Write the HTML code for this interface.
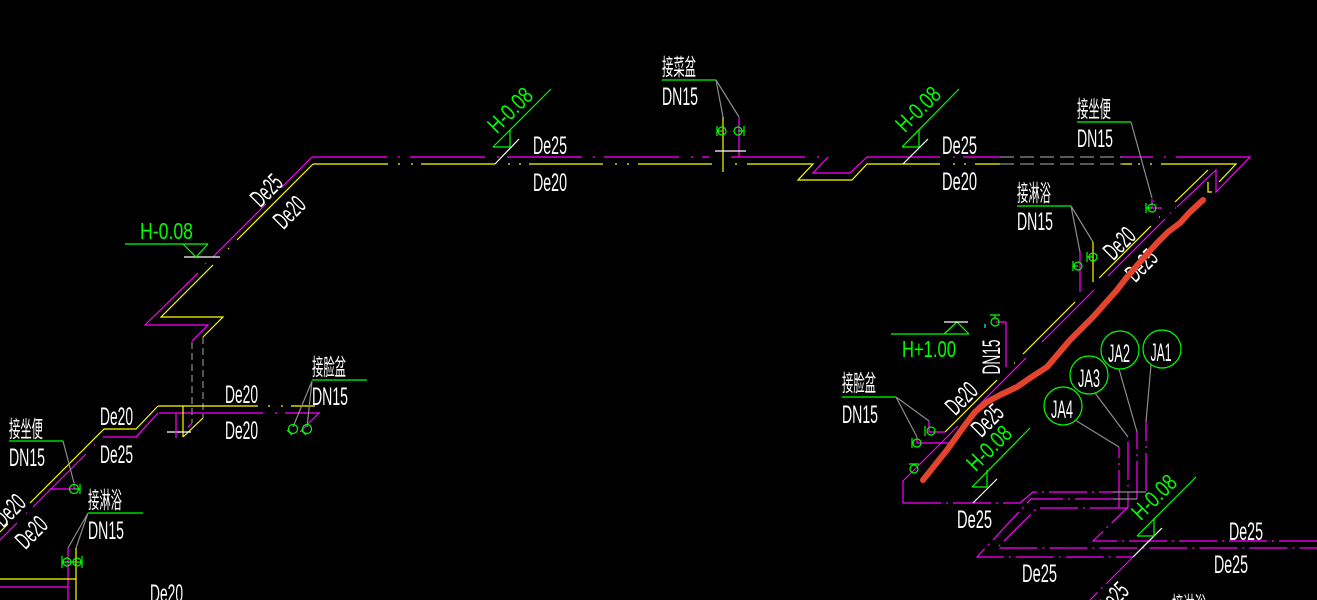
<!DOCTYPE html>
<html><head><meta charset="utf-8">
<style>
html,body{margin:0;padding:0;background:#000;width:1317px;height:600px;overflow:hidden}
svg{display:block}
.m{stroke:#ff00ff;fill:none;stroke-width:1.2}
.y{stroke:#ffff00;fill:none;stroke-width:1.2}
.g{stroke:#00ff00;fill:none;stroke-width:1.2}
.w{stroke:#ffffff;fill:none;stroke-width:1.2}
.gr{stroke:#8c8c8c;fill:none;stroke-width:1.2}
.cy{stroke:#00ffff;fill:none;stroke-width:1.2}
.dd{stroke-dasharray:38 5 2 5}
.t{fill:#fff;font-family:"Liberation Sans",sans-serif;font-size:25px}
.tg{fill:#00ff00;font-family:"Liberation Sans",sans-serif;font-size:23px}
.c{fill:#fff;font-family:"Liberation Sans","Noto Sans CJK SC",sans-serif;font-size:23px}
</style></head><body>
<svg width="1317" height="600" viewBox="0 0 1317 600" xmlns="http://www.w3.org/2000/svg">
<rect width="1317" height="600" fill="#000"/>

<!-- ===== Top-left riser ===== -->
<path class="m" d="M312,157 L282,187 M266,204 L213,257 M205,264 L206,263 M198,273 L145,325 L208,325 L192,341"/>
<path class="y" d="M313,164 L237,240 M228,249 L229,248 M213,265 L161,317 L223,317 L203,337"/>
<path class="gr" stroke-dasharray="7 4" d="M192,342 V423 M203,337 V418"/>
<path class="w" d="M184,257 H220"/>
<path class="g" d="M125,244 H208 M183,244 L196,257 L208,244"/>
<text class="tg" x="140" y="239" textLength="53" lengthAdjust="spacingAndGlyphs">H-0.08</text>
<text class="t" transform="translate(266,190) rotate(-45)" x="0" y="9" text-anchor="middle" textLength="34" lengthAdjust="spacingAndGlyphs">De25</text>
<text class="t" transform="translate(289,212) rotate(-45)" x="0" y="9" text-anchor="middle" textLength="34" lengthAdjust="spacingAndGlyphs">De20</text>

<!-- ===== Lower-left ===== -->
<path class="y" d="M158,406 H258 M268,406h2 M281,406h2 M291,406 H315"/>
<path class="m" d="M159,413 H263 M275,413h2 M285,413 H320"/>
<path class="y" d="M158,406 L136,429 H104 L30,503 M8,524 L0,532"/>
<path class="m" d="M158,413 L136,437 H103 M94,445h1 M86,454 L33,507 M26,513h1 M17,523 L0,540"/>
<path class="y" d="M183,406 V437 M203,418 L183,437"/>
<path class="w" d="M167,432 H191"/>
<path class="m" d="M176,413 V438 M192,423 L188,427"/>
<text class="t" x="100" y="425" textLength="33" lengthAdjust="spacingAndGlyphs">De20</text>
<text class="t" x="100" y="463" textLength="33" lengthAdjust="spacingAndGlyphs">De25</text>
<text class="t" x="225" y="403" textLength="33" lengthAdjust="spacingAndGlyphs">De20</text>
<text class="t" x="225" y="439" textLength="33" lengthAdjust="spacingAndGlyphs">De20</text>

<!-- 接脸盆 left -->
<text class="c" x="312" y="375" textLength="34" lengthAdjust="spacingAndGlyphs">接脸盆</text>
<path class="g" d="M312,380 H367"/>
<text class="t" x="312" y="405" textLength="36" lengthAdjust="spacingAndGlyphs">DN15</text>
<path class="gr" d="M312,381 L293,427 M312,381 L307,427"/>
<path class="m" d="M319,413 L300,432"/>
<circle class="g" cx="293" cy="429" r="4.5"/><circle class="g" cx="307" cy="429" r="4.5"/>
<path class="g" d="M287,430 L292,435 M301,430 L306,435"/>

<!-- 接坐便 left -->
<text class="c" x="9" y="437" textLength="34" lengthAdjust="spacingAndGlyphs">接坐便</text>
<path class="g" d="M9,441 H63"/>
<text class="t" x="9" y="466" textLength="36" lengthAdjust="spacingAndGlyphs">DN15</text>
<path class="gr" d="M63,441 L74,483"/>
<path class="m" d="M74,482 V489 M50,489 H74"/>
<circle class="g" cx="74" cy="489" r="4.5"/>
<path class="g" d="M80,484 V494 M74,489 H80"/>

<!-- 接淋浴 left -->
<text class="c" x="88" y="508" textLength="34" lengthAdjust="spacingAndGlyphs">接淋浴</text>
<path class="g" d="M88,513 H143"/>
<text class="t" x="88" y="539" textLength="36" lengthAdjust="spacingAndGlyphs">DN15</text>
<path class="gr" d="M88,513 L68,548 M88,513 L76,548"/>
<path class="m" d="M68,548 V600 M0,587 H68"/>
<path class="y" d="M76,548 V600 M0,579 H76"/>
<circle class="g" cx="67" cy="562" r="4"/><circle class="g" cx="77" cy="562" r="4"/>
<path class="g" d="M62,556 V568 M82,556 V568 M62,562 H82"/>
<text class="t" x="150" y="602" textLength="33" lengthAdjust="spacingAndGlyphs">De20</text>
<text class="t" transform="translate(9,510) rotate(-45)" x="0" y="9" text-anchor="middle" textLength="34" lengthAdjust="spacingAndGlyphs">De20</text>
<text class="t" transform="translate(31,532) rotate(-45)" x="0" y="9" text-anchor="middle" textLength="34" lengthAdjust="spacingAndGlyphs">De20</text>

<!-- ===== Top main horizontal ===== -->
<path class="m" d="M312,157 H387 M398,157h2 M410,157 H485 M497,157h2 M507,157 H582 M593,157h2 M604,157 H679 M691,157h2 M702,157 H709 M731,157 H805 M817,157h2 M828,157 L813,173 H850 L867,157 H940 M953,157h2 M963,157 H1000"/>
<path class="y" d="M313,164 H388 M398,164h2 M411,164h2 M421,164 H495 M508,164h2 M519,164h2 M529,164 H603 M615,164h2 M627,164h2 M638,164 H712 M735,164h2 M747,164 H813 L798,180 H852 L867,164 H940 M953,164h2 M964,164h2 M975,164 H1000"/>
<path class="gr" stroke-dasharray="14 6" d="M1000,157 H1122 M1000,164 H1122"/>
<path class="m" d="M1122,157 H1153 M1164,157h2 M1176,157 H1250 L1216,192 V170 L1177,207"/>
<path class="y" d="M1122,164 H1132 M1138,164h2 M1150,164h2 M1161,164 H1236 L1219,182 M1208,170 L1175,202 M1208,182 V192 H1212"/>

<!-- H-0.08 top middle -->
<path class="g" d="M493,147 L551,89 M493,147 H510 V130"/>
<path class="w" d="M495,164 L519,139"/>
<text class="tg" transform="translate(510,110) rotate(-45)" x="0" y="8" text-anchor="middle" textLength="53" lengthAdjust="spacingAndGlyphs">H-0.08</text>
<text class="t" x="533" y="154" textLength="34" lengthAdjust="spacingAndGlyphs">De25</text>
<text class="t" x="533" y="191" textLength="34" lengthAdjust="spacingAndGlyphs">De20</text>

<!-- 接菜盆 -->
<text class="c" x="662" y="75" textLength="34" lengthAdjust="spacingAndGlyphs">接菜盆</text>
<path class="g" d="M662,80 H716"/>
<text class="t" x="662" y="105" textLength="36" lengthAdjust="spacingAndGlyphs">DN15</text>
<path class="gr" d="M716,80 L723,117 M716,80 L739,117"/>
<path class="y" d="M723,117 V172"/>
<path class="m" d="M739,117 V157"/>
<path class="w" d="M715,151 H746"/>
<circle class="g" cx="722" cy="131" r="4"/><circle class="g" cx="738" cy="131" r="4"/>
<path class="g" d="M717,126 V136 M717,131 H722 M744,126 V136 M738,131 H744"/>

<!-- H-0.08 top right -->
<path class="g" d="M902,147 L959,89 M902,147 H919 V130"/>
<path class="w" d="M903,164 L928,139"/>
<text class="tg" transform="translate(918,109) rotate(-45)" x="0" y="8" text-anchor="middle" textLength="53" lengthAdjust="spacingAndGlyphs">H-0.08</text>
<text class="t" x="942" y="154" textLength="35" lengthAdjust="spacingAndGlyphs">De25</text>
<text class="t" x="942" y="190" textLength="35" lengthAdjust="spacingAndGlyphs">De20</text>

<!-- 接坐便 right -->
<text class="c" x="1077" y="117" textLength="34" lengthAdjust="spacingAndGlyphs">接坐便</text>
<path class="g" d="M1077,122 H1131"/>
<text class="t" x="1077" y="147" textLength="36" lengthAdjust="spacingAndGlyphs">DN15</text>
<path class="gr" d="M1131,122 L1152,198"/>
<path class="m" d="M1152,199 V208 H1162"/>
<circle class="g" cx="1152" cy="208" r="4"/>
<path class="g" d="M1146,203 V213 M1146,208 H1152"/>

<!-- 接淋浴 right -->
<text class="c" x="1017" y="201" textLength="34" lengthAdjust="spacingAndGlyphs">接淋浴</text>
<path class="g" d="M1017,206 H1071"/>
<text class="t" x="1017" y="230" textLength="36" lengthAdjust="spacingAndGlyphs">DN15</text>
<path class="gr" d="M1071,206 L1080,252 M1071,206 L1093,242"/>
<path class="y" d="M1093,242 V282"/>
<path class="m" d="M1080,252 V292"/>
<circle class="g" cx="1093" cy="257" r="4"/><circle class="g" cx="1078" cy="266" r="4"/>
<path class="g" d="M1087,252 V262 M1087,257 H1093 M1073,261 V271 M1073,266 H1078"/>

<!-- main diagonal -->
<path class="y" d="M1159,217h1 M1151,226 L1099,278 M1075,302 L1023,354 M1014,363h1 M997,380 L945,432"/>
<path class="m" d="M1175,208h1 M1170,213h1 M1165,219 L1108,276 M1094,290 L1042,342 M1026,358 L973,411 M958,426 L903,481 V503"/>
<path class="m dd" d="M903,503 H1020 L1033,492 H1113"/>
<text class="t" transform="translate(1119,243) rotate(-45)" x="0" y="9" text-anchor="middle" textLength="34" lengthAdjust="spacingAndGlyphs">De20</text>
<text class="t" transform="translate(1141,265) rotate(-45)" x="0" y="9" text-anchor="middle" textLength="34" lengthAdjust="spacingAndGlyphs">De25</text>

<!-- DN15 vertical + H+1.00 -->
<path class="m" d="M1006,322 V367 M996,322 H1006"/>
<circle class="g" cx="995" cy="322" r="4"/>
<path class="g" d="M990,315 H1000 M995,315 V318"/>
<path class="cy" d="M985,324 V328"/>
<text class="t" transform="translate(991,357) rotate(-90)" x="0" y="9" text-anchor="middle" textLength="35" lengthAdjust="spacingAndGlyphs">DN15</text>
<path class="g" d="M891,334 H969 M944,334 L957,322 L969,334"/>
<path class="w" d="M944,322 H968"/>
<text class="tg" x="902" y="357" textLength="54" lengthAdjust="spacingAndGlyphs">H+1.00</text>

<!-- 接脸盆 right -->
<text class="c" x="842" y="391" textLength="34" lengthAdjust="spacingAndGlyphs">接脸盆</text>
<path class="g" d="M842,397 H896"/>
<text class="t" x="842" y="423" textLength="36" lengthAdjust="spacingAndGlyphs">DN15</text>
<path class="gr" d="M896,397 L929,421 M896,397 L917,437"/>
<path class="m" d="M929,421 V432 H945 M917,437 V443 H950"/>
<circle class="g" cx="931" cy="431" r="4"/><circle class="g" cx="917" cy="443" r="4"/>
<path class="g" d="M925,426 V436 M912,438 V448"/>
<circle class="g" cx="914" cy="469" r="4"/>
<path class="g" d="M909,464 H919 M914,464 V465"/>
<text class="t" transform="translate(961,398) rotate(-45)" x="0" y="9" text-anchor="middle" textLength="34" lengthAdjust="spacingAndGlyphs">De20</text>
<text class="t" transform="translate(987,420) rotate(-45)" x="0" y="9" text-anchor="middle" textLength="34" lengthAdjust="spacingAndGlyphs">De25</text>

<!-- H-0.08 mid bottom -->
<path class="g" d="M972,487 L1030,428 M972,487 H987 V470"/>
<path class="w" d="M997,479 L973,503"/>
<text class="tg" transform="translate(989,448) rotate(-45)" x="0" y="8" text-anchor="middle" textLength="53" lengthAdjust="spacingAndGlyphs">H-0.08</text>
<text class="t" x="957" y="528" textLength="35" lengthAdjust="spacingAndGlyphs">De25</text>

<!-- lower right pipes -->
<path class="m dd" d="M1113,499 H1031 L977,557 H1133"/>
<path class="m dd" d="M1128,508 H1037 L997,548 H1317"/>
<path class="m dd" d="M1317,541 H1093 L1128,507 V437"/>
<path class="m dd" d="M1119,508 V447"/>
<path class="m dd" d="M1137,499 V432"/>
<path class="m dd" d="M1146,491 V422"/>
<path class="gr" d="M1113,492 H1146 M1113,499 H1137"/>
<path class="m dd" d="M1133,557 L1090,600"/>
<path class="w" d="M1133,557 L1162,528"/>
<path class="g" d="M1137,536 L1196,477 M1137,536 H1154 V518"/>
<text class="tg" transform="translate(1154,497) rotate(-45)" x="0" y="8" text-anchor="middle" textLength="53" lengthAdjust="spacingAndGlyphs">H-0.08</text>
<text class="t" x="1229" y="540" textLength="34" lengthAdjust="spacingAndGlyphs">De25</text>
<text class="t" x="1214" y="573" textLength="34" lengthAdjust="spacingAndGlyphs">De25</text>
<text class="t" x="1022" y="582" textLength="35" lengthAdjust="spacingAndGlyphs">De25</text>
<text class="t" transform="translate(1112,598) rotate(-45)" x="0" y="9" text-anchor="middle" textLength="34" lengthAdjust="spacingAndGlyphs">De25</text>
<text class="c" x="1172" y="613" textLength="34" lengthAdjust="spacingAndGlyphs">接淋浴</text>

<!-- JA circles -->
<path class="gr" d="M1151,365 L1146,422 M1119,369 L1137,432 M1095,393 L1128,437 M1075,420 L1119,447"/>
<circle class="g" cx="1162" cy="349" r="19"/>
<circle class="g" cx="1120" cy="350" r="19"/>
<circle class="g" cx="1089" cy="375" r="19"/>
<circle class="g" cx="1063" cy="406" r="19"/>
<text class="t" x="1161" y="361" text-anchor="middle" textLength="21" lengthAdjust="spacingAndGlyphs">JA1</text>
<text class="t" x="1119" y="362" text-anchor="middle" textLength="22" lengthAdjust="spacingAndGlyphs">JA2</text>
<text class="t" x="1089" y="387" text-anchor="middle" textLength="22" lengthAdjust="spacingAndGlyphs">JA3</text>
<text class="t" x="1062" y="418" text-anchor="middle" textLength="22" lengthAdjust="spacingAndGlyphs">JA4</text>

<!-- red markup line -->
<polyline fill="none" stroke="#e4432d" stroke-width="6" stroke-linecap="round" stroke-linejoin="round"
 points="1203,200 1190,212 1180,223 1168,232 1157,243 1140,262 1127,277 1117,290 1093,317 1070,340 1047,367 1030,378 1017,387 1000,395 987,402 975,412 965,425 947,450 935,465 923,480"/>
</svg>
</body></html>
